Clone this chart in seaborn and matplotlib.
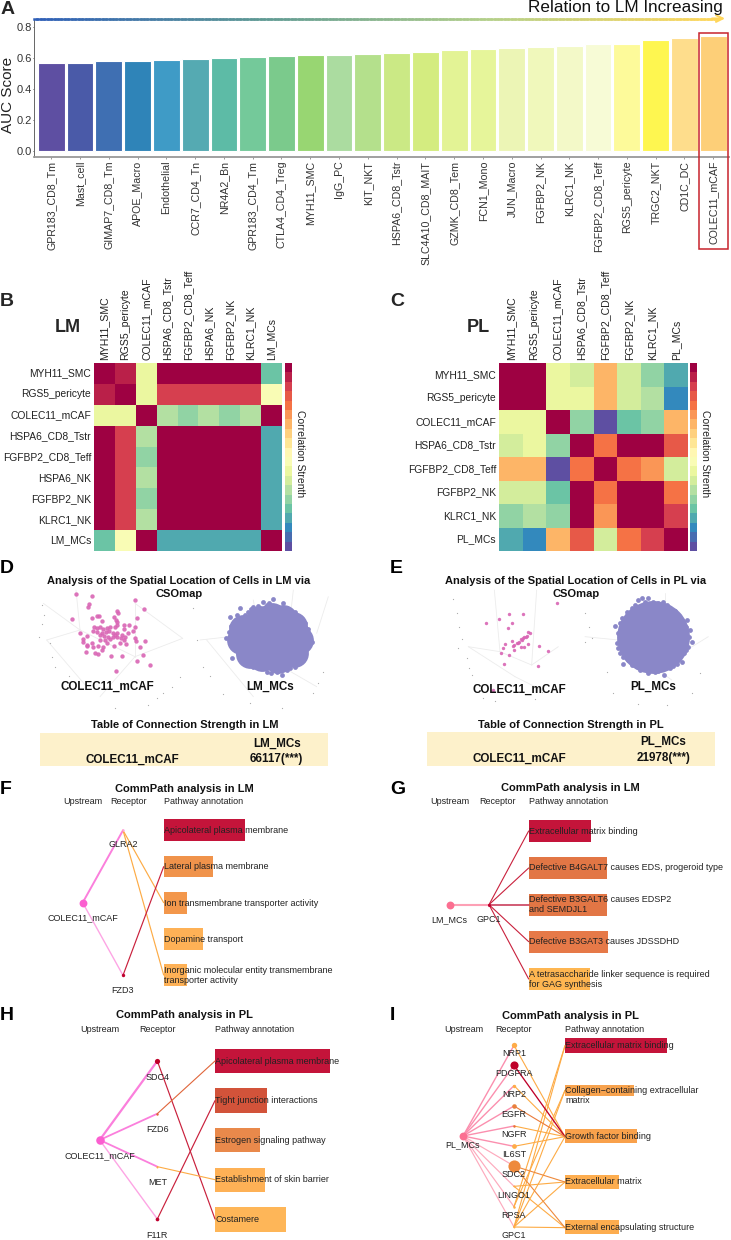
import numpy as np
import pandas as pd
import matplotlib
matplotlib.use("Agg")
import matplotlib.pyplot as plt
from matplotlib.colors import ListedColormap, LinearSegmentedColormap
from matplotlib.collections import LineCollection
from matplotlib.patches import Rectangle
import seaborn as sns

sns.set_theme(style="white")
plt.rcParams['font.family'] = ['Liberation Sans', 'DejaVu Sans']

W, H = 731, 1240
# ---------- data ----------
auc_names = ["GPR183_CD8_Tm","Mast_cell","GIMAP7_CD8_Tm","APOE_Macro","Endothelial","CCR7_CD4_Tn","NR4A2_Bn",
             "GPR183_CD4_Tm","CTLA4_CD4_Treg","MYH11_SMC","IgG_PC","KIT_NKT","HSPA6_CD8_Tstr","SLC4A10_CD8_MAIT",
             "GZMK_CD8_Tem","FCN1_Mono","JUN_Macro","FGFBP2_NK","KLRC1_NK","FGFBP2_CD8_Teff","RGS5_pericyte",
             "TRGC2_NKT","CD1C_DC","COLEC11_mCAF"]
auc_vals = [.567,.567,.580,.582,.587,.590,.597,.604,.612,.617,.619,.625,.631,.636,.651,.655,.663,.670,.678,.687,.689,.715,.730,.740]
auc_cols = ["#5e4fa2","#4a5aa8","#3f6fb2","#2f84b8","#3f9bc6","#55aab2","#5dbba6","#74c99a","#7bca8c","#98d672",
            "#abdca0","#b4e08c","#cbe985","#d4ec80","#e3f395","#e6f59a","#ecf5b5","#f0f8bb","#f3f9c8","#f7fbd6",
            "#fdfa9a","#fef650","#fedd8c","#fdcf78"]

lm_labels = ["MYH11_SMC","RGS5_pericyte","COLEC11_mCAF","HSPA6_CD8_Tstr","FGFBP2_CD8_Teff","HSPA6_NK","FGFBP2_NK","KLRC1_NK","LM_MCs"]
lm_m = [[1,.94,.43,1,1,1,1,1,.21],
        [.94,1,.43,.89,.89,.89,.89,.89,.48],
        [.43,.43,1,.31,.26,.32,.26,.31,1],
        [1,.89,.32,1,1,1,1,1,.16],
        [1,.89,.26,1,1,1,1,1,.16],
        [1,.89,.32,1,1,1,1,1,.16],
        [1,.89,.26,1,1,1,1,1,.16],
        [1,.89,.31,1,1,1,1,1,.16],
        [.21,.48,1,.16,.16,.16,.16,.16,1]]
pl_labels = ["MYH11_SMC","RGS5_pericyte","COLEC11_mCAF","HSPA6_CD8_Tstr","FGFBP2_CD8_Teff","FGFBP2_NK","KLRC1_NK","PL_MCs"]
pl_m = [[1,1,.44,.37,.66,.38,.26,.16],
        [1,1,.44,.44,.66,.38,.31,.11],
        [.43,.43,1,.26,0,.21,.26,.67],
        [.37,.43,.26,1,.79,1,1,.84],
        [.66,.66,0,.79,1,.79,.74,.37],
        [.38,.38,.21,1,.79,1,1,.79],
        [.26,.31,.26,1,.73,1,1,.89],
        [.16,.11,.67,.84,.37,.79,.89,1]]

d_caf = [(228,163),(275,169),(268,191),(265,201),(405,181),(433,208),(350,214),(355,220),(216,236),(275,234),(290,228),(296,229),
         (342,230),(347,240),(352,246),(307,243),(410,235),(388,255),(372,256),(372,268),(405,262),(240,278),(282,260),(290,265),
         (300,262),(310,268),(320,265),(330,262),(345,262),(350,255),(280,272),(292,275),(305,278),(318,275),(328,272),(340,278),
         (352,280),(365,285),(375,290),(300,285),(312,288),(325,290),(338,292),(350,290),(362,295),(372,300),(262,288),(250,298),
         (248,305),(262,315),(275,310),(300,300),(315,300),(330,296),(345,285),(295,318),(310,322),(320,310),(305,330),(295,342),
         (285,338),(258,335),(262,318),(280,322),(333,348),(365,347),(405,295),(408,302),(435,303),(420,320),(428,345),(412,362),
         (450,376),(348,393),(400,272),(385,280),(378,312),(360,310),(342,318)]
d_mc_core = [(780,240),(850,238),(815,232),(748,270),(800,275),(860,275),(888,285),(752,320),(810,325),(870,325),(785,352),(835,358),(738,295),
             (728,268),(722,300),(878,258),(898,300),(882,338),(750,342),(830,250)]
d_mc_rim = [(690,232),(720,205),(745,215),(760,200),(790,185),(820,178),(800,195),(835,200),(860,205),(885,215),(905,240),(915,250),
            (900,260),(915,275),(925,295),(935,305),(920,310),(910,335),(915,345),(900,365),(885,380),(860,390),(845,405),(830,395),
            (800,395),(780,385),(760,380),(740,370),(725,360),(695,355),(715,340),(705,320),(678,294),(698,290),(692,258),(705,245),
            (735,225),(770,210),(910,360),(840,385),(812,400),(870,370),(775,198),(808,188),(848,190),(872,222),(895,232),(925,268),
            (905,320),(895,350),(870,385),(820,388),(790,375),(755,365),(730,348),(700,305),(688,275),(712,225),(752,208)]
e_caf = [(576,190),(433,223),(473,223),(363,248),(401,238),(442,248),(430,263),(490,277),(495,278),(482,290),(475,295),(470,300),
         (462,305),(455,310),(448,315),(478,292),(468,298),(458,308),(445,318),(485,288),(440,303),(420,313),(415,325),(447,330),
         (432,345),(408,338),(490,312),(478,320),(468,322),(522,317),(550,332),(418,372),(518,378),(385,450)]
e_mc_core = [(865,290)]
e_mc_rim = [(832,173),(850,175),(865,185),(880,190),(895,185),(915,205),(940,225),(965,240),(952,250),(975,270),(980,305),(970,320),
            (958,340),(950,365),(935,372),(915,385),(897,405),(870,395),(850,400),(835,385),(815,378),(775,372),(790,360),(765,340),
            (755,310),(758,280),(750,257),(770,235),(785,215),(810,195),(820,180),(800,205),(840,185),(905,195),(930,212),(962,262),
            (972,290),(962,330),(925,378),(880,392),(825,390),(800,375),(775,350),(760,325),(765,250),(790,225)]
d_grid = [(228,150,240,270),(240,270,140,300),(240,270,405,350),(405,350,548,295),(405,350,405,190),(405,190,548,295),
          (130,190,240,270),(140,300,260,440),(405,350,300,470),(690,290,600,300),(690,290,950,440),(950,280,985,170),(620,300,760,470),
          (760,180,780,300),(880,150,860,330)]
e_grid = [(388,150,405,335),(405,335,310,320),(405,335,500,375),(500,375,580,320),(500,375,515,150),(310,320,450,410),(450,410,530,450),
          (760,300,660,290),(760,300,920,420),(1030,290,900,370),(900,370,900,160)]
d_ticks = [(125,195),(133,225),(125,253),(118,292),(150,310),(155,350),(165,380),(208,408),(345,503),(445,495),(470,475),(490,460),(515,440),(540,412),
           (578,205),(590,300),(610,380),(630,408),(670,462),(750,490),(845,505),(940,460),(955,430),(970,395)]
e_ticks = [(265,176),(275,220),(283,260),(290,297),(278,325),(305,355),(312,385),(320,405),(390,483),(355,475),(510,478),(530,455),
           (660,220),(672,260),(680,295),(660,305),(725,395),(745,458),(820,493),(905,495),(980,460),(1005,400)]

# Bars: left, right, top, bottom, colour
f_bars = [(491,735,133,199,"#bf0029"),(491,639,242,307,"#ef8a3c"),(491,561,351,416,"#f28e3c"),(491,608,460,525,"#feab47"),(491,561,568,634,"#feab47")]
g_bars = [(491,678,134,201,"#bf0029"),(491,725,245,312,"#e06a35"),(491,725,356,423,"#e06a35"),(491,728,467,534,"#e46e38"),(491,675,578,645,"#feb042")]
h_bars = [(645,990,132,204,"#bf0029"),(645,801,250,323,"#cf4429"),(645,780,370,442,"#e87f3c"),(645,795,489,561,"#feab47"),(645,858,607,680,"#feb04a")]
i_bars = [(600,906,100,143,"#bf0029"),(600,807,240,272,"#f79a3e"),(600,817,373,415,"#f9993c"),(600,762,510,552,"#fda640"),(600,762,646,688,"#fda640")]

f_text = [(491,166,"Apicolateral plasma membrane"),(491,275,"Lateral plasma membrane"),(491,384,"Ion transmembrane transporter activity"),
          (491,493,"Dopamine transport"),(491,602,"Inorganic molecular entity transmembrane\ntransporter activity")]
g_text = [(491,168,"Extracellular matrix binding"),(491,279,"Defective B4GALT7 causes EDS, progeroid type"),
          (491,389,"Defective B3GALT6 causes EDSP2\nand SEMDJL1"),(491,500,"Defective B3GAT3 causes JDSSDHD"),
          (491,613,"A tetrasaccharide linker sequence is required\nfor GAG synthesis")]
h_text = [(645,168,"Apicolateral plasma membrane"),(645,287,"Tight junction interactions"),(645,406,"Estrogen signaling pathway"),
          (645,524,"Establishment of skin barrier"),(645,643,"Costamere")]
i_text = [(600,122,"Extracellular matrix binding"),(600,272,"Collagen\u2212containing extracellular\nmatrix"),(600,395,"Growth factor binding"),
          (600,531,"Extracellular matrix"),(600,668,"External encapsulating structure")]

PK, LPK, OR, CR, RS, LRS = "#fb7fdc", "#fda5e4", "#fdab45", "#c9203c", "#fb8fae", "#fdaabd"
# Edges: x0, y0, x1, y1, colour, width
f_edges = [(248,383,369,166,PK,1.4),(248,383,369,601,LPK,1.0),(369,166,491,383,OR,.85),(369,166,491,600,OR,.85),(369,601,491,275,CR,.85)]
g_edges = [(254,389,372,389,"#fda0b5",1.5),(372,389,491,168,CR,.8),(372,389,491,279,CR,.8),(372,389,491,389,"#c9405c",1.2),(372,389,491,500,CR,.8),(372,389,491,612,CR,.8)]
h_edges = [(299,405,472,168,PK,1.6),(299,405,472,326,PK,1.3),(299,405,472,485,PK,1.3),(299,405,472,642,LPK,1.0),
           (472,168,645,642,CR,.85),(472,326,645,168,"#e0653a",.8),(472,485,645,524,OR,.8),(472,642,645,287,CR,.85)]
i_recv = [("NRP1",121,146,50,"#feab47"),("PDGFRA",181,207,120,"#bf0029"),("NRP2",242,268,18,"#feab47"),("EGFR",303,328,35,"#e8803c"),
          ("NGFR",363,389,8,"#e8703c"),("IL6ST",424,449,38,"#feab47"),("SDC2",483,509,270,"#ee8a3c"),("LINGO1",544,570,3,"#feab47"),
          ("RPSA",605,631,8,"#feab47"),("GPC1",666,692,3,"#feab47")]
i_path = [(605,122),(666,122),(605,256),(666,256),(121,395),(242,395),(363,395),
          (424,395),(666,395),(544,531),(666,531),(544,668),(666,668)]
i_strong = [(181,395,"#bf0029",.95),(303,395,"#ea7a3a",.8),(483,531,"#ee8a3c",.8),(483,668,"#ee8a3c",.8)]

# ---------- helpers ----------
fig = plt.figure(figsize=(W/100, H/100), dpi=100, facecolor="white")

def px_axes(x0, y0, x1, y1):
    return fig.add_axes([x0/W, 1-y1/H, (x1-x0)/W, (y1-y0)/H])

def crop_axes(x, y, w, h):
    ax = px_axes(x, y, x+w, y+h)
    ax.set_xlim(0, w*3); ax.set_ylim(h*3, 0); ax.axis("off"); ax.patch.set_alpha(0)
    return ax

def letter(ax, x, y, s):
    ax.text(x, y, s, fontsize=14, fontweight="bold", color="black", ha="left", va="center")

# ---------- A ----------
ax = px_axes(34, 20, 729, 157)
df = pd.DataFrame({"cell": auc_names, "auc": auc_vals})
sns.barplot(data=df, x="cell", y="auc", hue="cell", palette=auc_cols, legend=False, saturation=1, width=.93,
            edgecolor="white", linewidth=.8, ax=ax)
ax.set_xlim(-.6, 23.55); ax.set_ylim(-.036, .843)
ax.set_yticks([0, .2, .4, .6, .8]); ax.set_yticklabels(["0.0","0.2","0.4","0.6","0.8"], fontsize=8.0, color="#333333")
ax.set_xticks(range(24)); ax.set_xticklabels(auc_names, rotation=90, fontsize=7.7, color="#333333")
ax.set_xlabel(""); ax.set_ylabel("AUC Score", fontsize=11, color="#222222", va="center")
ax.yaxis.set_label_coords(-26/695, 0.45)
ax.tick_params(axis="y", length=1, width=.7, color="#555555", pad=.5, left=True)
ax.tick_params(axis="x", length=1.2, width=.6, color="#888888", pad=1.5, bottom=True)
for s in ("top", "right"):
    ax.spines[s].set_visible(False)
ax.spines["left"].set_color("#666666"); ax.spines["left"].set_linewidth(.7)
ax.spines["bottom"].set_color("#999999"); ax.spines["bottom"].set_linewidth(1.3)

top = px_axes(0, 0, W, 270)
top.set_xlim(0, W); top.set_ylim(270, 0); top.axis("off"); top.patch.set_alpha(0)
grad = LinearSegmentedColormap.from_list("g", ["#2f5fb8", "#5f9a94", "#b4d08a", "#ffd65a"])
xs = np.linspace(34, 718, 200)
segs = [[(a, 18.5), (b, 18.5)] for a, b in zip(xs[:-1], xs[1:])]
top.add_collection(LineCollection(segs, colors=grad(np.linspace(0, 1, len(segs))), linewidths=1.8, capstyle="projecting"))
top.annotate("", xy=(725, 18.5), xytext=(712, 18.5),
             arrowprops=dict(arrowstyle="->", color="#ffd65a", lw=1.5, shrinkA=0, shrinkB=0))
top.text(723, 7.5, "Relation to LM Increasing", fontsize=12.3, ha="right", va="center", color="#111111")
top.add_patch(Rectangle((698.5, 33), 29.5, 216, fill=False, edgecolor="#c8232c", lw=1.1))
top.text(1, 9, "A", fontsize=14, fontweight="bold", va="center")

# ---------- B / C ----------
cmap = ListedColormap(plt.get_cmap("Spectral_r")(np.linspace(0, 1, 20)))
def heat(x0, x1, cx0, cx1, m, labels, title, tx, letter_s, lx):
    a = px_axes(x0, 363, x1, 551)
    c = px_axes(cx0, 363, cx1, 551)
    sns.heatmap(pd.DataFrame(m, index=labels, columns=labels), cmap=cmap, vmin=0, vmax=1, ax=a, cbar_ax=c,
                cbar_kws={"ticks": []}, square=False)
    a.xaxis.tick_top()
    a.set_xticklabels(labels, rotation=90, fontsize=7.6, color="#222222")
    a.set_yticklabels(labels, rotation=0, fontsize=7.4, color="#222222")
    a.tick_params(length=0, pad=2)
    a.set_xlabel(""); a.set_ylabel("")
    c.set_ylabel("Correlation Strenth", rotation=270, fontsize=7.5, color="#222222", va="center")
    c.yaxis.set_label_coords(2.15, 0.52)
    fig.text(tx/W, 1-327/H, title, fontsize=13, fontweight="bold", ha="center", va="center")
    fig.text(lx/W, 1-302/H, letter_s, fontsize=14, fontweight="bold", ha="left", va="center")
heat(94, 282, 285, 292, lm_m, lm_labels, "LM", 68, "B", 0)
heat(499, 688, 690, 697, pl_m, pl_labels, "PL", 478, "C", 390)

# ---------- D / E ----------
def scatter_panel(cx, title_c, title_l, caf, core, core_s, rim, grid, ticks, caf_s, labs, tab_title, tab_c, band, rows, let_x):
    a = crop_axes(cx, 540, 366 if cx else 370, 240)
    for x0, y0, x1, y1 in grid:
        a.plot([x0, x1], [y0, y1], color="#ececec", lw=.6, zorder=1)
    tk = np.array(ticks); a.scatter(tk[:, 0], tk[:, 1], s=.8, color="#aaaaaa", linewidths=0, zorder=1)
    p = np.array(caf); a.scatter(p[:, 0], p[:, 1], s=caf_s, color="#d965b4", alpha=.9, linewidths=0, zorder=2)
    p = np.array(core); a.scatter(p[:, 0], p[:, 1], s=core_s, color="#8a87c8", linewidths=0, zorder=2)
    p = np.array(rim); a.scatter(p[:, 0], p[:, 1], s=12, color="#8a87c8", linewidths=0, zorder=2)
    a.text(title_c, 122, title_l, fontsize=8.0, fontweight="bold", ha="center", va="center", color="#111111")
    a.text(title_c, 162, "CSOmap", fontsize=8.0, fontweight="bold", ha="center", va="center", color="#111111")
    for x, y, s in labs:
        a.text(x, y, s, fontsize=8.4, fontweight="bold", ha="center", va="center", color="#111111", zorder=3)
    a.text(tab_c, 555, tab_title, fontsize=8.0, fontweight="bold", ha="center", va="center", color="#111111")
    a.add_patch(Rectangle((band[0], band[1]), band[2]-band[0], band[3]-band[1], color="#fdf1cb", lw=0))
    for x, y, s in rows:
        a.text(x, y, s, fontsize=8.4, fontweight="bold", ha="center", va="center", color="#111111")
    letter(a, let_x, 85, "D" if cx == 0 else "E")

scatter_panel(0, 537, "Analysis of the Spatial Location of Cells in LM via", d_caf, d_mc_core, 430, d_mc_rim, d_grid, d_ticks, 10,
              [(322, 440, "COLEC11_mCAF"), (810, 440, "LM_MCs")], "Table of Connection Strength in LM", 553, (120, 578, 985, 678),
              [(830, 610, "LM_MCs"), (398, 658, "COLEC11_mCAF"), (830, 658, "66117(***)")], 0)
scatter_panel(365, 632, "Analysis of the Spatial Location of Cells in PL via", e_caf, e_mc_core, 2750, e_mc_rim, e_grid, e_ticks, 6,
              [(462, 448, "COLEC11_mCAF"), (865, 440, "PL_MCs")], "Table of Connection Strength in PL", 617, (185, 575, 1050, 678),
              [(895, 606, "PL_MCs"), (463, 657, "COLEC11_mCAF"), (895, 654, "21978(***)")], 75)

# ---------- F-I ----------
def net_panel(crop, let, lx, ly, title, tc, ty, hdr, hy, bars, texts, edges, nodes, labels):
    a = crop_axes(*crop)
    for x0, x1, y0, y1, c in bars:
        a.barh((y0+y1)/2, x1-x0, height=y1-y0, left=x0, color=c, edgecolor="none", alpha=.92, zorder=1)
    for x0, y0, x1, y1, c, w in edges:
        a.plot([x0, x1], [y0, y1], color=c, lw=w, zorder=2, solid_capstyle="round")
    for x, y, s, c in nodes:
        a.scatter([x], [y], s=s, color=c, linewidths=0, zorder=3)
    for x, y, s in labels:
        a.text(x, y, s, fontsize=6.5, ha="center", va="center", color="#222222", zorder=4)
    for x, y, s in texts:
        a.text(x, y, s, fontsize=6.5, ha="left", va="center", color="#222222", zorder=4, linespacing=1.05)
    for x, s, ha in hdr:
        a.text(x, hy, s, fontsize=6.5, ha=ha, va="center", color="#222222")
    a.text(tc, ty, title, fontsize=8.0, fontweight="bold", ha="center", va="center", color="#111111")
    letter(a, lx, ly, let)

net_panel((0, 775, 365, 230), "F", 0, 45, "CommPath analysis in LM", 553, 42,
          [(248, "Upstream", "center"), (385, "Receptor", "center"), (491, "Pathway annotation", "left")], 80,
          f_bars, f_text, f_edges,
          [(248, 383, 32, "#fb5fd0"), (369, 166, 3, "#fda5e4"), (369, 601, 6, "#c00030")],
          [(248, 428, "COLEC11_mCAF"), (369, 209, "GLRA2"), (369, 646, "FZD3")])
net_panel((365, 775, 366, 230), "G", 75, 42, "CommPath analysis in LM", 617, 40,
          [(254, "Upstream", "center"), (396, "Receptor", "center"), (491, "Pathway annotation", "left")], 80,
          g_bars, g_text, g_edges,
          [(254, 389, 32, "#fb6f91"), (372, 389, 5, "#c00030")],
          [(254, 434, "LM_MCs"), (372, 434, "GPC1")])
net_panel((0, 1005, 365, 235), "H", 0, 30, "CommPath analysis in PL", 553, 30,
          [(299, "Upstream", "center"), (472, "Receptor", "center"), (645, "Pathway annotation", "left")], 74,
          h_bars, h_text, h_edges,
          [(299, 405, 38, "#fb5fd0"), (472, 168, 14, "#bf0029"), (472, 326, 3, "#e0653a"), (472, 485, 2, "#fdab45"), (472, 642, 7, "#c00030")],
          [(299, 453, "COLEC11_mCAF"), (472, 216, "SDC4"), (472, 375, "FZD6"), (472, 533, "MET"), (472, 690, "F11R")])

i_edges = [(294, 393, 447, y, RS if k < 6 else LRS, 1.0 if k < 6 else .85) for k, (_, y, _, _, _) in enumerate(i_recv)]
i_edges += [(447, y0, 600, y1, OR, .8) for y0, y1 in i_path]
i_edges += [(447, y0, 600, y1, c, w) for y0, y1, c, w in i_strong]
net_panel((365, 1005, 366, 235), "I", 75, 30, "CommPath analysis in PL", 617, 33,
          [(295, "Upstream", "center"), (447, "Receptor", "center"), (600, "Pathway annotation", "left")], 74,
          i_bars, i_text, i_edges,
          [(294, 393, 32, "#fb6f91")] + [(447, y, s*.28+1, c) for _, y, _, s, c in i_recv],
          [(294, 419, "PL_MCs")] + [(447, ly, n) for n, _, ly, _, _ in i_recv])

fig.savefig("out.png", dpi=100)
